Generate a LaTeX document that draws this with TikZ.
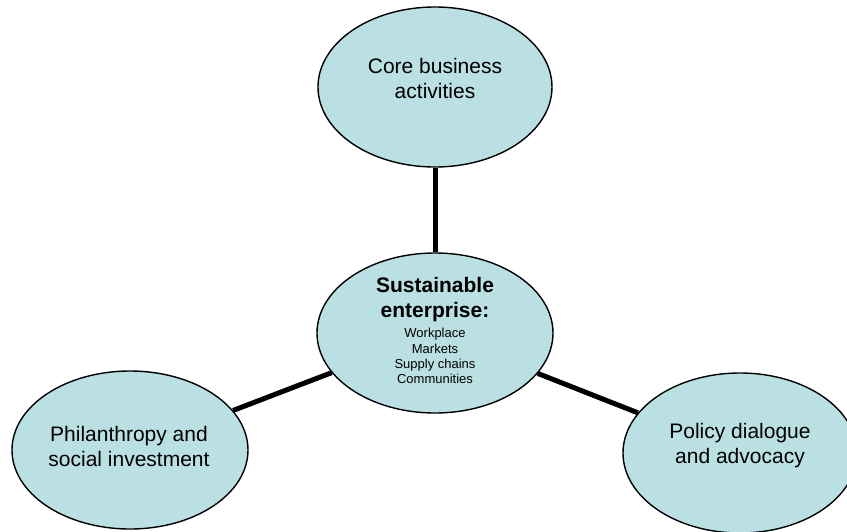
\documentclass[tikz,border=0pt]{standalone}
\usepackage{fontspec}
\setmainfont{Liberation Sans}
\usetikzlibrary{shapes.geometric}
\definecolor{bubble}{RGB}{187,224,227}
\tikzset{
  bubble/.style={ellipse, draw=black, line width=1.4pt, fill=bubble, inner sep=0pt,
    minimum width=234pt, minimum height=160pt},
  bigtext/.style={align=center, font=\fontsize{21}{25}\selectfont, inner sep=0pt},
  smalltext/.style={align=center, font=\fontsize{13}{15.3}\selectfont, inner sep=0pt},
  link/.style={line width=5pt, black}
}
\begin{document}
\begin{tikzpicture}[x=1pt,y=-1pt]
\useasboundingbox (0,0) rectangle (847,531);
\node[bubble] (top) at (435,87) {};
\node[bubble, minimum width=236pt] (mid) at (435,333) {};
\node[bubble, minimum width=236pt, minimum height=158pt] (left) at (130,450) {};
\node[bubble] (right) at (740,453) {};
\draw[link] (mid) -- (top);
\draw[link] (mid) -- (left);
\draw[link] (mid) -- (right);
\node[bigtext] (ttop) at (435,78) {Core business\\activities};
\node[bigtext, font=\bfseries\fontsize{21}{25}\selectfont] (tmid) at (435,300) {Sustainable\\enterprise:};
\node[smalltext] (tlist) at (435,356) {Workplace\\Markets\\Supply chains\\Communities};
\node[bigtext] (tleft) at (129,446) {Philanthropy and\\social investment};
\node[bigtext] (tright) at (740,446) {Policy dialogue\\and advocacy};
\end{tikzpicture}
\end{document}
